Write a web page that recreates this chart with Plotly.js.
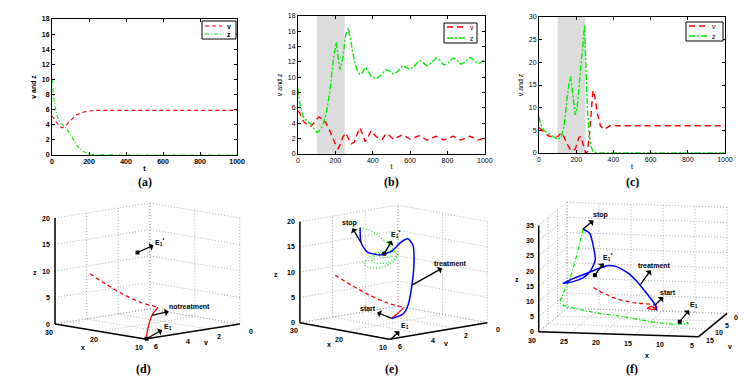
<!DOCTYPE html>
<html>
<head>
<meta charset="utf-8">
<script src="https://cdn.plot.ly/plotly-3.0.1.min.js"></script>
<style>
  html, body { margin: 0; padding: 0; background: #fff; }
  #chart { width: 747px; height: 379px; }
</style>
</head>
<body>
<div id="chart"></div>
<script>
// ---- (a) no treatment, time series ----
const aT = [0, 10, 25, 40, 55, 70, 90, 110, 130, 160, 190, 230, 300, 400, 600, 800, 1000]
const aV = [5.2, 4.9, 4.3, 3.8, 3.6, 3.8, 4.3, 4.9, 5.3, 5.6, 5.8, 5.9, 5.9, 5.9, 5.9, 5.9, 5.9]
const aZ = [10, 7.5, 5.3, 4.5, 4.1, 3.7, 3.1, 2.3, 1.4, 0.6, 0.2, 0.03, 0, 0, 0, 0, 0]

// ---- (b) treatment 100..250 ----
const bT = [0, 10, 30, 50, 70, 90, 100, 110, 130, 150, 170, 190, 205, 215, 225, 240, 255, 270, 285, 300,
  315, 330, 345, 360, 375, 390, 420, 450, 470, 490, 510, 530, 560, 580, 600, 620, 650, 670, 690, 710,
  740, 760, 780, 800, 830, 850, 870, 890, 920, 940, 960, 980, 1000]
const bV = [5.6, 5.3, 4.2, 3.8, 3.6, 4.2, 4.6, 4.8, 4.6, 4.0, 3.0, 1.8, 1.0, 0.7, 1.2, 2.2, 2.7, 2.0, 1.3, 1.5,
  2.5, 3.4, 2.6, 1.6, 2.2, 3.0, 2.2, 1.9, 2.6, 2.4, 1.9, 2.1, 2.5, 2.2, 1.9, 2.1, 2.4, 2.1, 1.8, 2.0,
  2.3, 2.1, 1.8, 2.0, 2.3, 2.1, 1.8, 2.0, 2.3, 2.1, 1.8, 1.9, 2.1]
const bZ = [8.5, 6.5, 4.6, 4.3, 3.8, 3.2, 2.8, 2.9, 3.6, 5.2, 8.0, 12.5, 14.6, 12.5, 11.0, 12.5, 15.5, 16.4, 14.5, 12.3,
  11.0, 10.4, 10.6, 11.3, 10.8, 10.2, 9.8, 10.4, 11.0, 10.8, 10.4, 10.7, 11.5, 11.3, 11.0, 11.4, 12.2, 11.9, 11.5, 11.8,
  12.5, 12.2, 11.6, 11.8, 12.5, 12.3, 11.7, 11.9, 12.6, 12.3, 11.8, 11.9, 12.4]

// ---- (c) treatment 100..250, other parameters ----
const cT = [0, 10, 25, 50, 75, 100, 120, 135, 150, 160, 170, 180, 195, 205, 215, 225, 235, 245, 250, 255,
  260, 270, 280, 290, 300, 315, 330, 350, 370, 390, 420, 500, 1000]
const cV = [5.6, 5.2, 4.6, 3.8, 3.5, 3.6, 4.4, 3.5, 2.0, 1.2, 0.7, 0.5, 0.9, 2.2, 3.5, 3.6, 2.0, 0.5, 0.1, 0.0,
  0.3, 3.5, 9.0, 13.8, 12.5, 8.5, 6.0, 5.2, 5.7, 6.2, 6.0, 6.0, 6.0]
const cZ = [8, 6.2, 5.0, 4.3, 3.8, 3.0, 3.5, 6.0, 11.7, 15.0, 16.9, 13.5, 8.4, 10.0, 14.0, 19.0, 23.5, 28.3, 22.0, 15.0,
  9.5, 4.0, 1.4, 0.4, 0.1, 0, 0, 0, 0, 0, 0, 0, 0]

const treatment = [100, 250]

// ---- phase space (x, v, z) ----
// no-treatment start, shared by (d) (e) (f)
const redX = [24.3, 23, 21.2, 18.5, 15.5]
const redV = [5.4, 4.8, 4.2, 3.8, 3.6]
const redZ = [10, 8, 6, 4.6, 4.1]

const dRedX = [15.5, 13.4, 11.6, 10.6, 10.2, 10]
const dRedV = [3.6, 4.6, 5.3, 5.7, 5.85, 5.9]
const dRedZ = [4.1, 3.3, 2.2, 1.0, 0.4, 0]

const eRedX = [15.5, 15.0, 14.6]
const eRedV = [3.6, 4.1, 4.6]
const eRedZ = [4.1, 3.3, 2.6]
const eBlueX = [14.6, 12.4, 13.1, 15.9, 19.8, 23, 25.2, 25.1, 25.5, 26, 27.4, 28, 28.6]
const eBlueV = [4.6, 4.5, 4.0, 3.0, 1.8, 1.0, 0.7, 1.2, 1.6, 2.2, 2.6, 2.8, 2.7]
const eBlueZ = [2.6, 3.8, 5.2, 8.1, 11.8, 13.8, 14.5, 14.0, 12.5, 12.0, 12.6, 14.4, 17.2]
const eGreenX = [28.6, 27.8, 27.0, 26.4, 26.0, 25.8, 25.6, 25.4, 25.2, 25.1, 25, 25, 25, 25, 25, 25, 25, 25, 25, 25, 25, 25, 25, 25, 25]
const eGreenV = [2.7, 2.4, 2.0, 1.5, 1.2, 1.4, 2.2, 3.0, 3.4, 3.1, 2.5, 1.8, 1.4, 1.5, 2.1, 2.8, 3.0, 2.7, 2.2, 1.8, 1.8, 2.2, 2.5, 2.4, 2.2]
const eGreenZ = [17.2, 16.8, 15.5, 13.5, 11.5, 10.3, 9.6, 10.0, 11.0, 12.2, 12.9, 12.8, 12.0, 11.0, 10.5, 10.9, 11.7, 12.4, 12.7, 12.4, 11.8, 11.6, 12.0, 12.4, 12.4]

const fRedX = [15.5, 14.8, 15.0, 16.2, 15.6, 14.6]
const fRedV = [3.6, 3.9, 4.4, 4.3, 4.0, 4.6]
const fRedZ = [4.1, 3.6, 2.9, 3.1, 3.6, 2.7]
const fBlueX = [14.6, 14.9, 17.7, 19.8, 22, 23.6, 24.9, 26.6, 28.4, 29.5, 28.3, 27, 26.1, 25.3, 25.7, 26.3, 27.4]
const fBlueV = [4.6, 4.5, 3.0, 2.0, 1.0, 0.6, 0.6, 1.0, 2.0, 3.8, 2.5, 1.5, 1.0, 1.0, 0.8, 0.5, 0.3]
const fBlueZ = [2.7, 4.4, 10, 13.2, 14.8, 14.8, 13.8, 12.3, 11, 10.2, 10.2, 11.1, 12.9, 16.8, 21.6, 25.2, 26.5]
const fGreenX = [27.4, 27.9, 28.7, 29.4, 29.4, 29.3, 24.8, 19.5, 14.9, 11, 9, 10, 10.6]
const fGreenV = [0.3, 0.2, 0.2, 0.5, 4, 6, 5.4, 5.6, 7.2, 8, 6.9, 6.0, 6.1]
const fGreenZ = [26.5, 22.2, 15.6, 10.2, 7, 4.8, 2, 0.8, 0.3, 0.1, 0, 0, 0]

// equilibria
const E1 = [10, 5.9, 0]
const E1f = [10.6, 6.1, 0]
const E1star = [25, 2.2, 12.4]

// axes of the 3-d boxes
const deX = [10, 20, 30], deV = [0, 2, 4, 6], deZ = [0, 5, 10, 15, 20]
const fX = [5, 10, 15, 20, 25, 30], fV = [0, 5, 10, 15], fZ = [0, 5, 10, 15, 20, 25, 30, 35]

const RED = '#ff0000'
const GREEN = '#00ee00'
const BLUE = '#0000ff'
const FONT = 'Liberation Sans, Arial, sans-serif'
const tick = { family: FONT, size: 7, color: '#000', weight: 700 }
const tickN = { family: FONT, size: 7, color: '#000', weight: 400 }

// view of each 3-d box: screen position of corner c (at z=0) and screen step per unit of x, v, z
const views = {
    d: { o: [145, 339], c: [10, 6], ex: [-4.5, -0.75], ev: [-15.8, 2.5], ez: [0, -5.3],
        xt: deX, vt: deV, zt: deZ, xl: [-6, 8], vl: [11, 7], vAnchor: 'center',
        tx: [-17, 16], tv: [14, 11], tz: [-20, 1] },
    e: { o: [389.3, 339.3], c: [10, 6], ex: [-4.47, -0.83], ev: [-16.33, 2.77], ez: [0, -5.05],
        xt: deX, vt: deV, zt: deZ, xl: [-6, 8], vl: [11, 7], vAnchor: 'center',
        tx: [-16, 13], tv: [8, 13], tz: [-24, 2] },
    f: { o: [538.7, 331.7], c: [30, 15], ex: [-6.4, -0.2], ev: [-1.89, 1.56], ez: [0, -3.03],
        xt: fX, vt: fV, zt: fZ, xl: [-7, 9], vl: [5, 4], vAnchor: 'left',
        tx: [28, 21], tv: [17, 21], tz: [-22, 1] }
}
function P(w, x, v, z) {
    return [w.o[0] + (x - w.c[0]) * w.ex[0] + (v - w.c[1]) * w.ev[0] + z * w.ez[0],
        w.o[1] + (x - w.c[0]) * w.ex[1] + (v - w.c[1]) * w.ev[1] + z * w.ez[1]]
}

let traces = []
let annotations = []
let shapes = []

// time series
;[[aT, aV, aZ, ''], [bT, bV, bZ, '2'], [cT, cV, cZ, '3']].forEach(([t, v, z, n]) => {
    traces.push({ x: t, y: v, name: 'v', type: 'scatter', mode: 'lines', xaxis: 'x' + n, yaxis: 'y' + n, showlegend: false,
        line: { color: RED, dash: n ? '6px,4px' : '4px,3px', width: n ? 1.4 : 1.1 }, hoverinfo: 'skip' })
    traces.push({ x: t, y: z, name: 'z', type: 'scatter', mode: 'lines', xaxis: 'x' + n, yaxis: 'y' + n, showlegend: false,
        line: { color: GREEN, dash: n ? '6px,2px,2px,2px' : '4px,2px,1px,2px', width: n ? 1.4 : 1.1 }, hoverinfo: 'skip' })
})

// small legend boxes, drawn on the pixel axes x4/y4
function legendBox(x0, y0, x1, y1, sx0, sx1, rows, bold, wide) {
    shapes.push({ type: 'rect', xref: 'x4', yref: 'y4', x0, y0, x1, y1, line: { color: '#000', width: 1 }, fillcolor: '#fff' })
    shapes.push({ type: 'line', xref: 'x4', yref: 'y4', x0: sx0, x1: sx1, y0: rows[0], y1: rows[0],
        line: { color: RED, width: wide ? 1.4 : 1.1, dash: wide ? '6px,4px' : '4px,3px' } })
    shapes.push({ type: 'line', xref: 'x4', yref: 'y4', x0: sx0, x1: sx1, y0: rows[1], y1: rows[1],
        line: { color: GREEN, width: wide ? 1.4 : 1.1, dash: wide ? '6px,2px,2px,2px' : '4px,2px,1px,2px' } })
    ;['v', 'z'].forEach((s, i) => annotations.push({ xref: 'x4', yref: 'y4', x: sx1 + 3, y: rows[i], text: s,
        xanchor: 'left', yanchor: 'middle', showarrow: false, font: bold ? tick : tickN }))
}
legendBox(202, 21, 236, 39, 205, 222, [26, 34], true, false)
legendBox(444, 23, 477, 43, 447, 465, [27, 38], false, true)
legendBox(686, 22, 723, 41, 689, 707, [26, 36], false, true)

// 3-d boxes, projected onto the pixel axes
function seg(list, w, a, b) {
    const p = P(w, ...a), q = P(w, ...b)
    list.x.push(p[0], q[0], null)
    list.y.push(p[1], q[1], null)
}
function box(w) {
    const xs = w.xt, vs = w.vt, zs = w.zt
    const xF = Math.min(...xs), xB = Math.max(...xs), vF = Math.max(...vs), vB = Math.min(...vs), zT = Math.max(...zs)
    const grid = { x: [], y: [] }
    xs.forEach(x => { seg(grid, w, [x, vF, 0], [x, vB, 0]); seg(grid, w, [x, vB, 0], [x, vB, zT]) })
    vs.forEach(v => { seg(grid, w, [xF, v, 0], [xB, v, 0]); seg(grid, w, [xB, v, 0], [xB, v, zT]) })
    zs.forEach(z => { seg(grid, w, [xB, vF, z], [xB, vB, z]); seg(grid, w, [xF, vB, z], [xB, vB, z]) })
    traces.push({ type: 'scatter', mode: 'lines', xaxis: 'x4', yaxis: 'y4', x: grid.x, y: grid.y, showlegend: false,
        hoverinfo: 'skip', line: { color: '#9a9a9a', width: 0.8, dash: '1px,2px' } })
    const axl = { x: [], y: [] }
    seg(axl, w, [xF, vF, 0], [xB, vF, 0])
    seg(axl, w, [xF, vF, 0], [xF, vB, 0])
    seg(axl, w, [xB, vF, 0], [xB, vF, zT])
    traces.push({ type: 'scatter', mode: 'lines', xaxis: 'x4', yaxis: 'y4', x: axl.x, y: axl.y, showlegend: false,
        hoverinfo: 'skip', line: { color: '#000', width: 1.5 } })
    const lab = (p, off, text, xanchor) => annotations.push({ xref: 'x4', yref: 'y4', x: p[0], y: p[1], xshift: off[0],
        yshift: -off[1], text, xanchor, yanchor: 'middle', showarrow: false, font: tick })
    xs.forEach(x => lab(P(w, x, vF, 0), w.xl, String(x), 'center'))
    vs.forEach(v => lab(P(w, xF, v, 0), w.vl, String(v), w.vAnchor))
    zs.forEach(z => lab(P(w, xB, vF, z), [-3, 0], String(z), 'right'))
    lab(P(w, (xF + xB) / 2, vF, 0), w.tx, 'x', 'center')
    lab(P(w, xF, (vF + vB) / 2, 0), w.tv, 'v', 'center')
    lab(P(w, xB, vF, zT / 2), w.tz, 'z', 'center')
}
function curve(w, xs, vs, zs, color, dash, width) {
    const pts = xs.map((x, i) => P(w, x, vs[i], zs[i]))
    traces.push({ type: 'scatter', mode: 'lines', xaxis: 'x4', yaxis: 'y4', x: pts.map(p => p[0]), y: pts.map(p => p[1]),
        showlegend: false, hoverinfo: 'skip', line: { color, dash, width, shape: 'spline', smoothing: 0.6 } })
}
function dot(w, p) {
    const q = P(w, ...p)
    traces.push({ type: 'scatter', mode: 'markers', xaxis: 'x4', yaxis: 'y4', x: [q[0]], y: [q[1]], showlegend: false,
        hoverinfo: 'skip', marker: { symbol: 'square', size: 4, color: '#000' } })
}
function note(w, p, text, ax, ay) {
    const q = P(w, ...p)
    annotations.push({ xref: 'x4', yref: 'y4', x: q[0], y: q[1], text, ax, ay, showarrow: true, arrowside: 'start',
        arrowhead: 2, arrowsize: 1, arrowwidth: 1.3, arrowcolor: '#000', font: tick, standoff: 0, startstandoff: 0 })
}
const STAR = 'E<sub>1</sub><sup>*</sup>', E1TXT = 'E<sub>1</sub>'

// (d)
box(views.d)
curve(views.d, redX, redV, redZ, RED, '4px,3px', 1.3)
curve(views.d, dRedX, dRedV, dRedZ, RED, 'solid', 1.3)
dot(views.d, E1star); dot(views.d, E1)
note(views.d, E1star, STAR, 22, -10)
note(views.d, E1, E1TXT, 21, -12)
note(views.d, [dRedX[1], dRedV[1], dRedZ[1]], 'notreatment', 38, -9)

// (e)
box(views.e)
curve(views.e, redX, redV, redZ, RED, '4px,3px', 1.3)
curve(views.e, eRedX, eRedV, eRedZ, RED, 'solid', 1.3)
curve(views.e, eGreenX, eGreenV, eGreenZ, GREEN, '1px,2px', 1.2)
curve(views.e, eBlueX, eBlueV, eBlueZ, BLUE, 'solid', 1.5)
dot(views.e, E1star)
note(views.e, E1star, STAR, 11, -19)
note(views.e, E1, E1TXT, 14, -13)
note(views.e, [eBlueX[11], eBlueV[11], eBlueZ[11]], 'stop', -12, -20)
note(views.e, [eBlueX[3], eBlueV[3], eBlueZ[3]], 'treatment', 39, -22)
note(views.e, [eBlueX[0], eBlueV[0], eBlueZ[0]], 'start', -24, -10)

// (f)
box(views.f)
curve(views.f, redX, redV, redZ, RED, '4px,3px', 1.3)
curve(views.f, fRedX, fRedV, fRedZ, RED, 'solid', 1.3)
curve(views.f, fGreenX, fGreenV, fGreenZ, GREEN, '4px,2px,1px,2px', 1.3)
curve(views.f, fBlueX, fBlueV, fBlueZ, BLUE, 'solid', 1.5)
dot(views.f, E1star); dot(views.f, E1f)
note(views.f, E1star, STAR, 13, -18)
note(views.f, E1f, E1TXT, 14, -17)
note(views.f, [fBlueX[16], fBlueV[16], fBlueZ[16]], 'stop', 17, -14)
note(views.f, [fBlueX[2], fBlueV[2], fBlueZ[2]], 'treatment', 14, -20)
note(views.f, [fBlueX[1], fBlueV[1], fBlueZ[1]], 'start', 13, -13)

function ax2(domain, range, dtick, anchor, title, bold, standoff) {
    const f = bold ? tick : tickN
    return { domain, range, dtick, anchor, ticks: 'inside', ticklen: 3, tickcolor: '#000', mirror: 'ticks',
        showline: true, linecolor: '#000', linewidth: 1, showgrid: false, zeroline: false, fixedrange: true,
        tickfont: f, title: { text: title, font: f, standoff } }
}

const capFont = { family: 'Liberation Serif, Times New Roman, serif', size: 12, color: '#000' }
const caps = [['(a)', 145, 182], ['(b)', 391, 182], ['(c)', 632, 182], ['(d)', 143, 369], ['(e)', 391, 369], ['(f)', 632, 369]]
caps.forEach(([text, x, y]) => annotations.push({ text, x, y, xref: 'x4', yref: 'y4', showarrow: false, font: capFont }))

const layout = {
    width: 747, height: 379, margin: { l: 0, r: 0, t: 0, b: 0 }, paper_bgcolor: '#fff', plot_bgcolor: 'rgba(0,0,0,0)',
    font: tick, showlegend: false,
    xaxis: ax2([0.0696, 0.3173], [0, 1000], 200, 'y', 't', true, 1),
    yaxis: ax2([0.591, 0.950], [0, 18], 2, 'x', 'v and z', true, 4),
    xaxis2: ax2([0.399, 0.649], [0, 1000], 200, 'y2', 't', false, 0),
    yaxis2: ax2([0.594, 0.958], [0, 18], 2, 'x2', 'v and z', false, 4),
    xaxis3: ax2([0.7216, 0.9705], [0, 1000], 200, 'y3', 't', false, 1),
    yaxis3: ax2([0.5963, 0.9551], [0, 30], 5, 'x3', 'v and z', false, 4),
    // pixel axes for the projected 3-d panels, legends and captions
    xaxis4: { domain: [0, 1], range: [0, 747], visible: false, fixedrange: true, anchor: 'y4' },
    yaxis4: { domain: [0, 1], range: [379, 0], visible: false, fixedrange: true, anchor: 'x4' },
    shapes: [
        { type: 'rect', xref: 'x2', yref: 'y2 domain', x0: treatment[0], x1: treatment[1], y0: 0, y1: 1,
          fillcolor: '#dcdcdc', line: { width: 0 }, layer: 'below' },
        { type: 'rect', xref: 'x3', yref: 'y3 domain', x0: treatment[0], x1: treatment[1], y0: 0, y1: 1,
          fillcolor: '#dcdcdc', line: { width: 0 }, layer: 'below' }
    ].concat(shapes),
    annotations
}

Plotly.newPlot('chart', traces, layout, { displayModeBar: false, staticPlot: true })
</script>
</body>
</html>
